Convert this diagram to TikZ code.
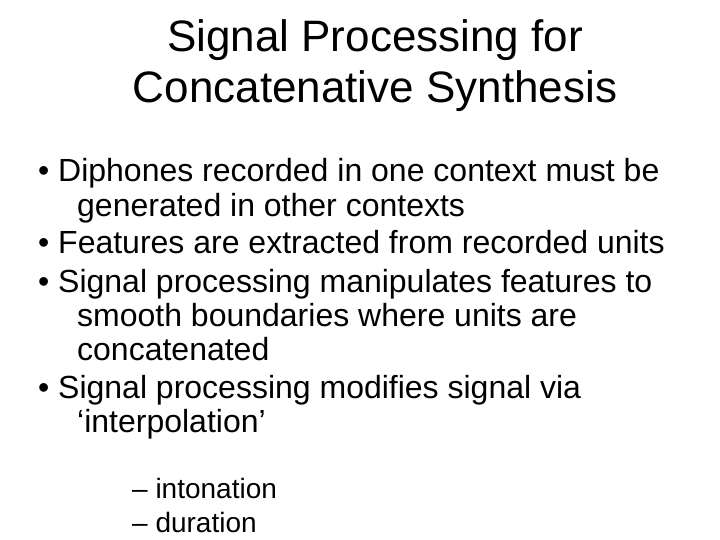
\documentclass[tikz,border=0pt]{standalone}
\usepackage{fontspec}
\setmainfont{Liberation Sans}
\begin{document}
\begin{tikzpicture}[x=1pt,y=-1pt,
  ttl/.style={anchor=base,font=\fontsize{44}{50}\selectfont,inner sep=0},
  bl/.style={anchor=base west,font=\fontsize{32}{36}\selectfont,inner sep=0},
  sb/.style={anchor=base west,font=\fontsize{28}{32}\selectfont,inner sep=0}]
\useasboundingbox (0,0) rectangle (720,540);
\node[ttl] (t1) at (375,52) {Signal Processing for};
\node[ttl] (t2) at (375,103) {Concatenative Synthesis};
\node[bl] (b1) at (38,182) {•};
\node[bl] (l1) at (58,182) {Diphones recorded in one context must be};
\node[bl] (l2) at (77,216) {generated in other contexts};
\node[bl] (b2) at (38,254) {•};
\node[bl] (l3) at (58,254) {Features are extracted from recorded units};
\node[bl] (b3) at (38,292) {•};
\node[bl] (l4) at (58,292) {Signal processing manipulates features to};
\node[bl] (l5) at (77,326) {smooth boundaries where units are};
\node[bl] (l6) at (77,360) {concatenated};
\node[bl] (b4) at (38,398) {•};
\node[bl] (l7) at (58,398) {Signal processing modifies signal via};
\node[bl] (l8) at (77,432) {‘interpolation’};
\node[sb] (s1) at (132,498) {– intonation};
\node[sb] (s2) at (132,532) {– duration};
\end{tikzpicture}
\end{document}
